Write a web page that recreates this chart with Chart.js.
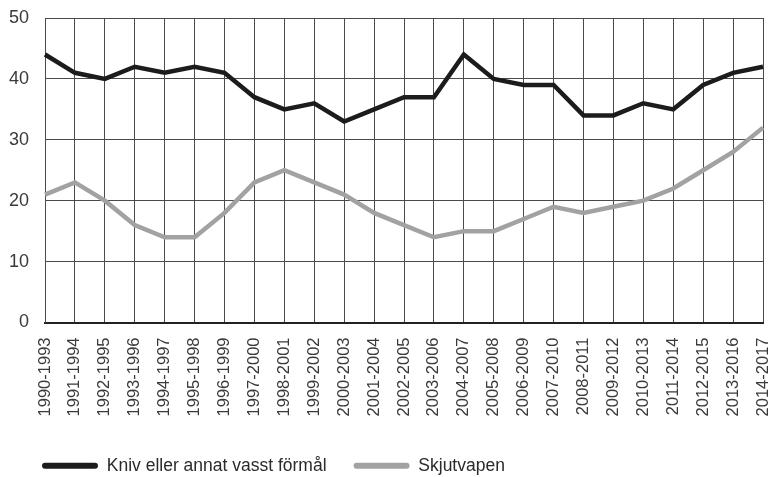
<!DOCTYPE html>
<html>
<head>
<meta charset="utf-8">
<script src="https://cdn.jsdelivr.net/npm/chart.js@4.4.1/dist/chart.umd.min.js"></script>
<style>
  html, body { margin: 0; padding: 0; background: #fff; }
  #wrap { width: 769px; height: 477px; position: relative; }
</style>
</head>
<body>
<div id="wrap"><canvas id="c"></canvas></div>
<script>
const categories = ["1990-1993","1991-1994","1992-1995","1993-1996","1994-1997","1995-1998","1996-1999","1997-2000","1998-2001","1999-2002","2000-2003","2001-2004","2002-2005","2003-2006","2004-2007","2005-2008","2006-2009","2007-2010","2008-2011","2009-2012","2010-2013","2011-2014","2012-2015","2013-2016","2014-2017"];
const knivValues = [44,41,40,42,41,42,41,37,35,36,33,35,37,37,44,40,39,39,34,34,36,35,39,41,42];
const skjutValues = [21,23,20,16,14,14,18,23,25,23,21,18,16,14,15,15,17,19,18,19,20,22,25,28,32];
const seriesLabels = ["Kniv eller annat vasst förmål", "Skjutvapen"];
const yTicks = [0,10,20,30,40,50];

const FONT = "'Liberation Sans', Arial, Helvetica, sans-serif";

const legendShift = {
  id: 'legendShift',
  afterLayout(chart) {
    const l = chart.legend;
    if (!l) return;
    l.left += 10; l.right += 10;
    l.top += 7.5; l.bottom += 7.5;
  }
};

new Chart(document.getElementById('c'), {
  type: 'line',
  data: {
    labels: categories,
    datasets: [
      {
        label: seriesLabels[0],
        data: knivValues,
        borderColor: '#1c1c1c',
        backgroundColor: '#1c1c1c',
        borderWidth: 4.5,
        pointRadius: 0,
        tension: 0,
        fill: false
      },
      {
        label: seriesLabels[1],
        data: skjutValues,
        borderColor: '#a2a2a2',
        backgroundColor: '#a2a2a2',
        borderWidth: 4.5,
        pointRadius: 0,
        tension: 0,
        fill: false
      }
    ]
  },
  options: {
    responsive: true,
    maintainAspectRatio: false,
    animation: false,
    events: [],
    layout: { padding: { left: 5, right: 6, top: 18, bottom: 0 } },
    scales: {
      x: {
        type: 'category',
        offset: false,
        grid: { color: '#4a4a4a', lineWidth: 1, drawTicks: false, offset: false },
        border: { color: '#222', width: 2 },
        ticks: {
          autoSkip: false,
          maxRotation: 90,
          minRotation: 90,
          padding: 15,
          color: '#3a3a3a',
          font: { family: FONT, size: 16.5 }
        },
        afterFit(scale) {
          scale.paddingLeft = 0;
          scale.paddingRight = 0;
          scale.height = 100;
        }
      },
      y: {
        min: 0,
        max: 50,
        afterBuildTicks(scale) {
          scale.ticks = yTicks.map(v => ({ value: v }));
        },
        grid: { color: '#4a4a4a', lineWidth: 1, drawTicks: false },
        border: { color: '#4a4a4a', width: 1 },
        ticks: {
          padding: 16,
          color: '#3a3a3a',
          font: { family: FONT, size: 18 }
        },
        afterFit(scale) {
          scale.width = 40;
          scale.paddingTop = 0;
          scale.paddingBottom = 0;
        }
      }
    },
    plugins: {
      tooltip: { enabled: false },
      legend: {
        display: true,
        position: 'bottom',
        align: 'start',
        labels: {
          boxWidth: 56,
          boxHeight: 6,
          padding: 27,
          useBorderRadius: true,
          borderRadius: 3,
          color: '#2a2a2a',
          font: { family: FONT, size: 17.5 },
          generateLabels(chart) {
            return chart.data.datasets.map((ds, i) => ({
              text: ds.label,
              fillStyle: ds.borderColor,
              strokeStyle: ds.borderColor,
              lineWidth: 0,
              borderRadius: 3,
              hidden: false,
              datasetIndex: i,
              fontColor: '#2a2a2a'
            }));
          }
        }
      }
    }
  },
  plugins: [legendShift]
});
</script>
</body>
</html>
